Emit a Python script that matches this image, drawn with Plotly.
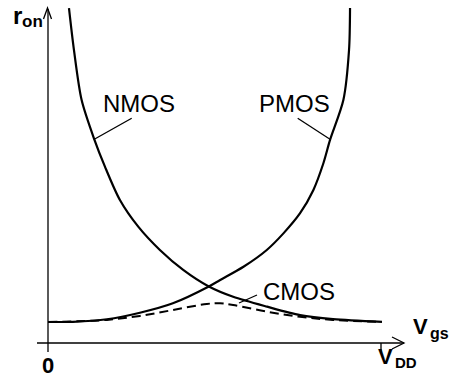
import plotly.graph_objects as go

# ---- data (x in units of V_DD, y = r_on relative to its minimum) ----
nmos_x = [0.063, 0.078, 0.101, 0.139, 0.171, 0.216, 0.271, 0.336, 0.406, 0.483, 0.556, 0.658, 0.757, 0.856, 1.003]
nmos_y = [15.95, 13.95, 11.57, 9.70, 8.40, 6.81, 5.54, 4.43, 3.48, 2.69, 2.20, 1.73, 1.33, 1.14, 1.01]

pmos_x = [0.0, 0.075, 0.177, 0.276, 0.375, 0.483, 0.517, 0.587, 0.657, 0.707, 0.757, 0.797, 0.827, 0.847, 0.887, 0.904, 0.907]
pmos_y = [1.0, 1.01, 1.13, 1.44, 1.89, 2.69, 3.00, 3.63, 4.43, 5.22, 6.18, 7.29, 8.56, 9.67, 11.57, 13.95, 15.95]

cmos_x = [0.0, 0.177, 0.276, 0.375, 0.477, 0.517, 0.556, 0.658, 0.757, 0.856, 1.0]
cmos_y = [1.0, 1.10, 1.29, 1.57, 1.86, 1.89, 1.81, 1.49, 1.25, 1.10, 1.0]

labels = ["NMOS", "PMOS", "CMOS"]

W, H = 449, 384
FONT = "Liberation Sans, Arial, sans-serif"


def px(x):
    return x / W


def py(y):
    return 1 - y / H


fig = go.Figure()
fig.add_trace(go.Scatter(x=nmos_x, y=nmos_y, mode="lines",
                         line=dict(color="black", width=2.2, shape="spline", smoothing=0.8),
                         hoverinfo="skip", showlegend=False))
fig.add_trace(go.Scatter(x=pmos_x, y=pmos_y, mode="lines",
                         line=dict(color="black", width=2.2, shape="spline", smoothing=0.8),
                         hoverinfo="skip", showlegend=False))
fig.add_trace(go.Scatter(x=cmos_x, y=cmos_y, mode="lines",
                         line=dict(color="black", width=2, dash="9px,5px", shape="spline", smoothing=1.0),
                         hoverinfo="skip", showlegend=False))

shapes = []
ax = dict(color="black", width=1.3)
# axis lines
shapes.append(dict(type="line", xref="x", yref="y", x0=-0.033, x1=1.069, y0=0, y1=0, line=ax))
shapes.append(dict(type="line", xref="x", yref="y", x0=0, x1=0, y0=-0.43, y1=15.9, line=ax))
shapes.append(dict(type="line", xref="x", yref="y", x0=1.0, x1=1.0, y0=-0.43, y1=0, line=ax))
# open arrowheads
shapes.append(dict(type="path", xref="paper", yref="paper",
                   path=f"M {px(43.5)},{py(19)} L {px(47.5)},{py(8)} L {px(51.5)},{py(19)}", line=ax))
shapes.append(dict(type="path", xref="paper", yref="paper",
                   path=f"M {px(392)},{py(337)} L {px(404)},{py(343)} L {px(392)},{py(349)}", line=ax))
# leader lines
lead = dict(color="black", width=1.3)
shapes.append(dict(type="line", xref="paper", yref="paper", x0=px(131.7), y0=py(118.3), x1=px(94.3), y1=py(139.3), line=lead))
shapes.append(dict(type="line", xref="paper", yref="paper", x0=px(297.7), y0=py(118.3), x1=px(330), y1=py(139.3), line=lead))
shapes.append(dict(type="line", xref="paper", yref="paper", x0=px(257), y0=py(295), x1=px(239), y1=py(303), line=lead))

ann = []


def text(t, x, y, size, bold=False, xanchor="center", yanchor="middle"):
    ann.append(dict(text=f"<b>{t}</b>" if bold else t, x=px(x), y=py(y), xref="paper", yref="paper",
                    showarrow=False, xanchor=xanchor, yanchor=yanchor,
                    font=dict(family=FONT, size=size, color="black")))


text(labels[0], 139, 104, 24)
text(labels[1], 294.5, 104, 24)
text(labels[2], 299, 291, 24)
text("r", 11, 0, 24, bold=True, xanchor="left", yanchor="top")
text("on", 20, 21, 17, bold=True, xanchor="left")
text("V", 411, 326, 22, bold=True, xanchor="left")
text("gs", 428, 333, 16, bold=True, xanchor="left")
text("V", 376, 356, 22, bold=True, xanchor="left")
text("DD", 393, 362, 15, bold=True, xanchor="left")
text("0", 47.5, 365, 22, bold=True)

fig.update_layout(
    width=W, height=H, autosize=False,
    margin=dict(l=0, r=0, t=0, b=0, pad=0),
    paper_bgcolor="white", plot_bgcolor="white",
    xaxis=dict(range=[-48 / 333, (W - 48) / 333], visible=False, fixedrange=True),
    yaxis=dict(range=[(343 - H) / 21, 343 / 21], visible=False, fixedrange=True),
    shapes=shapes, annotations=ann,
)
fig.write_html("out.html", config={"displayModeBar": False})
